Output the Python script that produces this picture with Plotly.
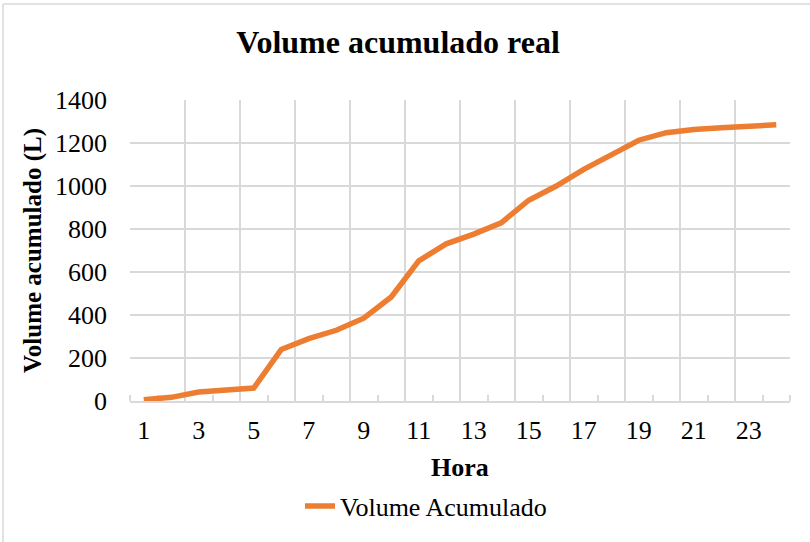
import plotly.graph_objects as go

hours = list(range(1, 25))
volume = [6, 17, 42, 50, 60, 240, 290, 329, 385, 484, 652, 731, 776, 829,
          934, 1000, 1077, 1145, 1213, 1248, 1263, 1271, 1277, 1285]
x_tick_labels = [str(h) for h in range(1, 24, 2)]
y_ticks = [0, 200, 400, 600, 800, 1000, 1200, 1400]

GRID = "#d9d9d9"
FONT = "Liberation Serif"

fig = go.Figure()
fig.add_trace(go.Scatter(
    x=hours, y=volume, mode="lines", name="Volume Acumulado",
    line=dict(color="#ED7D31", width=5.5), xaxis="x", yaxis="y",
))

W, H = 810, 542
L, R, T, B = 130, 20, 100, 141
pw, ph = W - L - R, H - T - B

def px_x(p):
    return (p - L) / pw

def px_y(p):
    return (H - B - p) / ph

fig.update_layout(
    width=W, height=H,
    margin=dict(l=L, r=R, t=T, b=B, autoexpand=False),
    paper_bgcolor="white", plot_bgcolor="white",
    font=dict(family=FONT, size=26, color="black"),
    title=dict(text="<b>Volume acumulado real</b>", x=398 / W, xanchor="center",
               y=1 - 42 / H, yanchor="middle", font=dict(size=32, family=FONT)),
    xaxis=dict(
        range=[0.5, 24.5], tickvals=list(range(1, 24, 2)), ticktext=x_tick_labels,
        showgrid=False, zeroline=False, ticks="", showline=True, linecolor=GRID,
        linewidth=1.5, ticklabelstandoff=5, automargin=False, layer="below traces",
        tickfont=dict(size=26),
        minor=dict(tick0=0.5, dtick=1, ticks="inside", ticklen=6, tickcolor=GRID,
                   tickwidth=1.5, showgrid=False),
        title=dict(text="<b>Hora</b>", standoff=19, font=dict(size=26)),
    ),
    xaxis2=dict(
        range=[0.5, 24.5], overlaying="x", side="bottom", automargin=False,
        tickvals=[b + 0.5 for b in range(0, 25, 2)], showticklabels=False,
        showgrid=True, gridcolor=GRID, gridwidth=1.5, zeroline=False, ticks="",
        layer="below traces",
    ),
    yaxis=dict(
        range=[0, 1400], tickvals=y_ticks, showgrid=True, gridcolor=GRID,
        gridwidth=1.5, zeroline=False, ticks="", showline=False,
        ticklabelstandoff=22, automargin=False, tickfont=dict(size=26),
        title=dict(text="<b>Volume acumulado (L)</b>", standoff=6, font=dict(size=25)),
    ),
    showlegend=True,
    legend=dict(orientation="h", x=426 / W, xanchor="center", xref="container",
                y=1 - 506 / H, yanchor="middle", yref="container",
                font=dict(size=26, family=FONT), bgcolor="rgba(0,0,0,0)"),
    shapes=[
        dict(type="line", xref="paper", yref="paper", x0=px_x(3), x1=px_x(810),
             y0=px_y(4), y1=px_y(4), line=dict(color=GRID, width=1.5)),
        dict(type="line", xref="paper", yref="paper", x0=px_x(3), x1=px_x(3),
             y0=px_y(4), y1=px_y(542), line=dict(color=GRID, width=1.5)),
    ],
)
# helper trace so the boundary grid of xaxis2 is drawn
fig.add_trace(go.Scatter(x=[0.5, 24.5], y=[None, None], xaxis="x2", yaxis="y",
                         showlegend=False, hoverinfo="skip", mode="lines"))

fig.write_html("out.html", config={"displayModeBar": False},
               post_script="document.body.style.margin='0';")
